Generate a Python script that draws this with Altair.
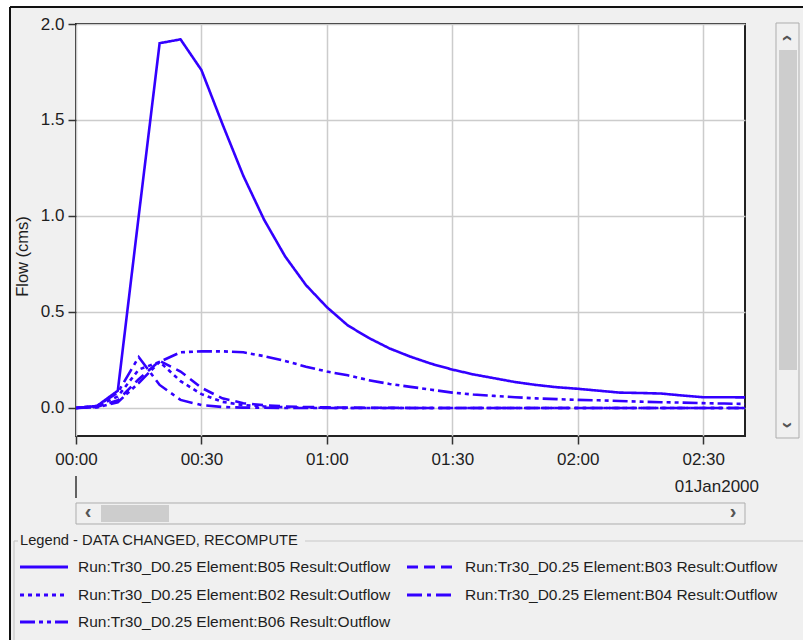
import altair as alt
import pandas as pd

BLUE = "#3300ff"
TXT = "#1e1e1e"
FONT = "Liberation Sans"

minutes = [0, 5, 10, 15, 20, 25, 30, 35, 40, 45, 50, 55, 60, 65, 70, 75, 80,
           85, 90, 95, 100, 105, 110, 115, 120, 125, 130, 135, 140, 145, 150, 155, 160]

b05 = [0.0, 0.01, 0.09, 1.00, 1.90, 1.92, 1.76, 1.48, 1.21, 0.98, 0.79, 0.64, 0.525,
       0.43, 0.365, 0.31, 0.267, 0.23, 0.20, 0.175, 0.155, 0.135, 0.12, 0.108, 0.10,
       0.09, 0.08, 0.078, 0.075, 0.065, 0.056, 0.056, 0.055]
b03 = [0.0, 0.005, 0.04, 0.15, 0.245, 0.19, 0.105, 0.05, 0.025, 0.014, 0.008, 0.005,
       0.003, 0.002, 0.001, 0.001, 0.0, 0.0, 0.0, 0.0, 0.0, 0.0, 0.0, 0.0, 0.0, 0.0,
       0.0, 0.0, 0.0, 0.0, 0.0, 0.0, 0.0]
b02 = [0.0, 0.01, 0.06, 0.20, 0.24, 0.14, 0.072, 0.032, 0.015, 0.008, 0.004, 0.002,
       0.001, 0.0, 0.0, 0.0, 0.0, 0.0, 0.0, 0.0, 0.0, 0.0, 0.0, 0.0, 0.0, 0.0, 0.0,
       0.0, 0.0, 0.0, 0.0, 0.0, 0.0]
b04 = [0.0, 0.01, 0.08, 0.265, 0.12, 0.042, 0.015, 0.005, 0.002, 0.001, 0.0, 0.0,
       0.0, 0.0, 0.0, 0.0, 0.0, 0.0, 0.0, 0.0, 0.0, 0.0, 0.0, 0.0, 0.0, 0.0, 0.0,
       0.0, 0.0, 0.0, 0.0, 0.0, 0.0]
b06 = [0.0, 0.003, 0.03, 0.13, 0.24, 0.29, 0.295, 0.295, 0.29, 0.27, 0.245, 0.215,
       0.19, 0.17, 0.145, 0.125, 0.11, 0.095, 0.08, 0.07, 0.063, 0.056, 0.05, 0.046,
       0.042, 0.04, 0.036, 0.033, 0.03, 0.028, 0.025, 0.023, 0.021]

series_labels = [
    "Run:Tr30_D0.25 Element:B05 Result:Outflow",
    "Run:Tr30_D0.25 Element:B03 Result:Outflow",
    "Run:Tr30_D0.25 Element:B02 Result:Outflow",
    "Run:Tr30_D0.25 Element:B04 Result:Outflow",
    "Run:Tr30_D0.25 Element:B06 Result:Outflow",
]
series_values = [b05, b03, b02, b04, b06]
dash_patterns = [[1, 0], [11, 6], [4, 4], [15, 5, 4, 5], [15, 4, 4, 4, 4, 4]]

x_ticks = [0, 30, 60, 90, 120, 150]
y_ticks = [0.0, 0.5, 1.0, 1.5, 2.0]
date_label = "01Jan2000"
y_title = "Flow (cms)"
legend_title = "Legend - DATA CHANGED, RECOMPUTE"

rows = []
for lab, vals in zip(series_labels, series_values):
    for m, v in zip(minutes, vals):
        rows.append({"minute": m, "flow": v, "series": lab})
df = pd.DataFrame(rows)

one = pd.DataFrame({"a": [0]})

label_expr = ("(floor(datum.value/60)<10?'0':'') + floor(datum.value/60) + ':' + "
              "(datum.value%60<10?'0':'') + (datum.value%60)")

lines = alt.Chart(df).mark_line(color=BLUE, strokeWidth=2.6, clip=True).encode(
    x=alt.X("minute:Q", title=None,
            scale=alt.Scale(domain=[0, 160], nice=False, zero=False),
            axis=alt.Axis(values=x_ticks, labelExpr=label_expr, grid=True,
                          gridColor="#cccccc", gridWidth=1.5, domain=False,
                          tickColor="#333333", tickWidth=1.5, tickSize=8,
                          labelFontSize=17, labelColor=TXT, labelPadding=7,
                          labelFlush=False)),
    y=alt.Y("flow:Q",
            scale=alt.Scale(domain=[-0.146, 2.0], nice=False, zero=False),
            axis=alt.Axis(values=y_ticks, format=".1f", grid=True,
                          gridColor="#cccccc", gridWidth=1.5, domain=False,
                          tickColor="#333333", tickWidth=1.5, tickSize=8,
                          labelFontSize=17, labelColor=TXT, labelPadding=4,
                          labelFlush=False,
                          title=y_title, titleFontSize=16.5, titleFontWeight="normal",
                          titleColor=TXT, titleAngle=270, titleX=-54, titleY=232,
                          titleAlign="center", titleBaseline="middle")),
    strokeDash=alt.StrokeDash("series:N",
                              scale=alt.Scale(domain=series_labels, range=dash_patterns),
                              sort=series_labels, legend=None),
)

layers = [lines]

# decorative frame elements (window chrome)
layers.append(alt.Chart(one).mark_rect(color="white").encode(
    x=alt.value(-76), x2=alt.value(-66), y=alt.value(-24), y2=alt.value(616)))
layers.append(alt.Chart(one).mark_rect(color="white").encode(
    x=alt.value(-76), x2=alt.value(727), y=alt.value(-24), y2=alt.value(-17)))
layers.append(alt.Chart(one).mark_rule(color="#111111", strokeWidth=2).encode(
    x=alt.value(-66), x2=alt.value(727), y=alt.value(-17)))
layers.append(alt.Chart(one).mark_rule(color="#111111", strokeWidth=2).encode(
    x=alt.value(-66), y=alt.value(-17), y2=alt.value(616)))

# date tick + label
layers.append(alt.Chart(one).mark_rule(color="#333333", strokeWidth=1.5).encode(
    x=alt.datum(0), y=alt.value(452), y2=alt.value(474)))
layers.append(alt.Chart(one).mark_text(align="right", baseline="middle", fontSize=17,
                                       color=TXT, font=FONT).encode(
    x=alt.value(683), y=alt.value(463), text=alt.value(date_label)))

# horizontal scrollbar
layers.append(alt.Chart(one).mark_rect(fill="#f0f0f0", stroke="#adadad", strokeWidth=1).encode(
    x=alt.value(0), x2=alt.value(669), y=alt.value(479), y2=alt.value(500)))
layers.append(alt.Chart(one).mark_rect(fill="#cdcdcd").encode(
    x=alt.value(25), x2=alt.value(93), y=alt.value(481), y2=alt.value(498)))
layers.append(alt.Chart(one).mark_text(fontSize=20, fontWeight="bold", color="#555555",
                                       baseline="middle", align="center").encode(
    x=alt.value(12), y=alt.value(488), text=alt.value("\u2039")))
layers.append(alt.Chart(one).mark_text(fontSize=20, fontWeight="bold", color="#555555",
                                       baseline="middle", align="center").encode(
    x=alt.value(657), y=alt.value(488), text=alt.value("\u203a")))

# vertical scrollbar
layers.append(alt.Chart(one).mark_rect(fill="#f0f0f0", stroke="#adadad", strokeWidth=1).encode(
    x=alt.value(700), x2=alt.value(723), y=alt.value(-1), y2=alt.value(414)))
layers.append(alt.Chart(one).mark_rect(fill="#cdcdcd").encode(
    x=alt.value(703), x2=alt.value(721), y=alt.value(26), y2=alt.value(346)))
layers.append(alt.Chart(one).mark_text(fontSize=20, fontWeight="bold", color="#555555",
                                       baseline="middle", align="center", angle=90).encode(
    x=alt.value(711.5), y=alt.value(14), text=alt.value("\u2039")))
layers.append(alt.Chart(one).mark_text(fontSize=20, fontWeight="bold", color="#555555",
                                       baseline="middle", align="center", angle=90).encode(
    x=alt.value(711.5), y=alt.value(401), text=alt.value("\u203a")))

# legend group box
layers.append(alt.Chart(one).mark_rule(color="#c8c8c8", strokeWidth=1.2).encode(
    x=alt.value(-62), x2=alt.value(-58), y=alt.value(517)))
layers.append(alt.Chart(one).mark_rule(color="#c8c8c8", strokeWidth=1.2).encode(
    x=alt.value(229), x2=alt.value(727), y=alt.value(517)))
layers.append(alt.Chart(one).mark_rule(color="#c8c8c8", strokeWidth=1.2).encode(
    x=alt.value(-62), y=alt.value(517), y2=alt.value(616)))
layers.append(alt.Chart(one).mark_text(align="left", baseline="middle", fontSize=14.7,
                                       color=TXT, font=FONT).encode(
    x=alt.value(-56), y=alt.value(517), text=alt.value(legend_title)))

# legend entries (row-major, 2 columns)
col_x = [-56, 331]
row_y = [543, 571, 598]
for i, (lab, dash) in enumerate(zip(series_labels, dash_patterns)):
    cx = col_x[i % 2]
    ry = row_y[i // 2]
    layers.append(alt.Chart(one).mark_rule(color=BLUE, strokeWidth=3, strokeDash=dash).encode(
        x=alt.value(cx), x2=alt.value(cx + 48), y=alt.value(ry)))
    layers.append(alt.Chart(one).mark_text(align="left", baseline="middle", fontSize=15.5,
                                           color=TXT, font=FONT).encode(
        x=alt.value(cx + 58), y=alt.value(ry), text=alt.value(lab)))

chart = alt.layer(*layers).properties(
    width=669, height=412,
    autosize=alt.AutoSizeParams(type="none"),
    padding={"left": 76, "top": 24, "right": 58, "bottom": 204},
    background="#f0f0f0",
).configure(
    font=FONT,
).configure_view(
    fill="white", stroke="#222222", strokeWidth=2,
)

chart.save("out.html", embed_options={"renderer": "svg", "actions": False})
